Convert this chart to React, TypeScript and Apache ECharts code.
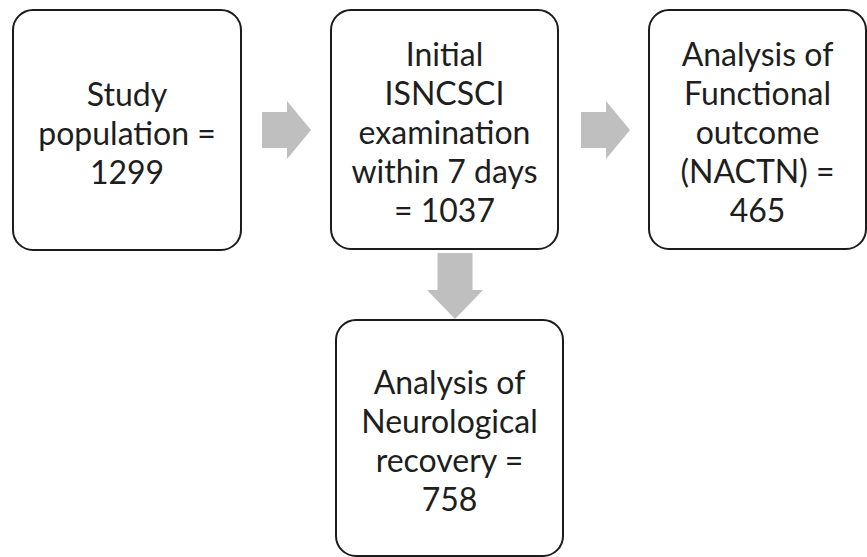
import React, { useEffect, useRef } from "react";
import * as echarts from "echarts";

// Flowchart content
const boxLabels = [
  "Study\npopulation =\n{n}",
  "Initial\nISNCSCI\nexamination\nwithin 7 days\n= {n}",
  "Analysis of\nFunctional\noutcome\n(NACTN) =\n{n}",
  "Analysis of\nNeurological\nrecovery =\n{n}",
];
const boxCounts = [1299, 1037, 465, 758];

// Layout (pixels)
const boxRects = [
  [13, 10, 228, 240],
  [331, 10, 227, 239],
  [649, 10, 217, 239],
  [336, 320, 227, 236],
];
// arrows: [x, y, direction]
const arrowDefs: [number, number, string][] = [
  [262, 130, "right"],
  [581, 130, "right"],
  [455, 253, "down"],
];

function arrowPoints(x: number, y: number, dir: string): number[][] {
  const shaftLen = 25;
  const headLen = 24;
  const shaftHalf = 18;
  const headHalf = 29;
  if (dir === "right") {
    return [
      [x, y - shaftHalf],
      [x + shaftLen, y - shaftHalf],
      [x + shaftLen, y - headHalf],
      [x + shaftLen + headLen, y],
      [x + shaftLen, y + headHalf],
      [x + shaftLen, y + shaftHalf],
      [x, y + shaftHalf],
    ];
  }
  const sl = 37;
  const hl = 29;
  return [
    [x - 17.5, y],
    [x + 17.5, y],
    [x + 17.5, y + sl],
    [x + 28, y + sl],
    [x, y + sl + hl],
    [x - 28, y + sl],
    [x - 17.5, y + sl],
  ];
}

export default function App() {
  const ref = useRef<HTMLDivElement>(null);
  useEffect(() => {
    if (!ref.current) return;
    const chart = echarts.init(ref.current, null, { renderer: "svg" });
    const elements: any[] = [];
    arrowDefs.forEach(([x, y, d]) => {
      elements.push({
        type: "polygon",
        shape: { points: arrowPoints(x, y, d) },
        style: { fill: "#bfbfbf" },
      });
    });
    boxRects.forEach(([x, y, w, h], i) => {
      elements.push({
        type: "rect",
        shape: { x, y, width: w, height: h, r: 20 },
        style: { fill: "#ffffff", stroke: "#1c1c1c", lineWidth: 2 },
      });
      elements.push({
        type: "text",
        x: x + w / 2,
        y: y + h / 2 + 2,
        style: {
          text: boxLabels[i].replace("{n}", String(boxCounts[i])),
          align: "center",
          verticalAlign: "middle",
          fontFamily: "Lato",
          fontSize: 32,
          lineHeight: 39,
          fill: "#1e1e1e",
        },
      });
    });
    chart.setOption({
      animation: false,
      backgroundColor: "#ffffff",
      graphic: { elements },
    });
    return () => chart.dispose();
  }, []);
  return (
    <div
      ref={ref}
      style={{ position: "fixed", left: 0, top: 0, width: 867, height: 557 }}
    />
  );
}
